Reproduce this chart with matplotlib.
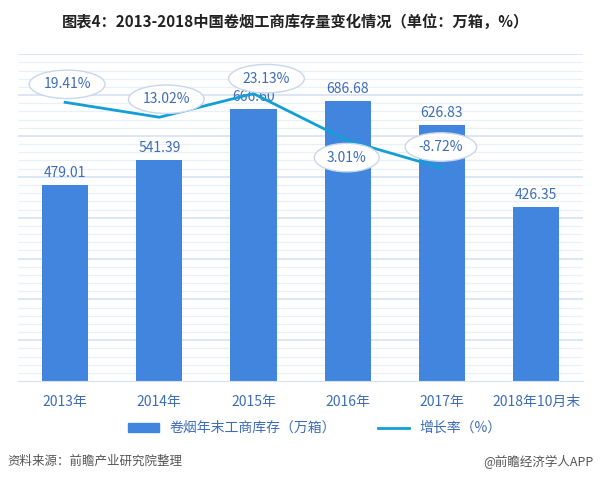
import matplotlib.pyplot as plt
from matplotlib.patches import Patch
from matplotlib.lines import Line2D

plt.rcParams['font.family'] = ['Noto Sans CJK SC', 'DejaVu Sans']

# ============================================================
# 数据
# ============================================================
years = ['2013年', '2014年', '2015年', '2016年', '2017年', '2018年10月末']
stock = [479.01, 541.39, 666.60, 686.68, 626.83, 426.35]
growth = [19.41, 13.02, 23.13, 3.01, -8.72]
growth_labels = ['19.41%', '13.02%', '23.13%', '3.01%', '-8.72%']

bar_color = '#4285DF'
line_color = '#129FD6'
text_blue = '#3E6DB8'

# 椭圆标签偏移 (像素)
label_offsets = [(2, 18), (7, 18), (13, 15), (-1, -17), (-1, 21)]

fig = plt.figure(figsize=(6, 4.8), dpi=100)
ax = fig.add_axes([0.03, 0.206, 0.942, 0.681])
x = list(range(len(years)))

# 网格线: 主线每100, 次线每20
for yv in range(20, 801, 20):
    major = yv % 100 == 0
    ax.axhline(yv, color='#D6E2F2' if major else '#EAF0F8',
               linewidth=1.2 if major else 0.9, solid_capstyle='butt', zorder=0)

ax.bar(x, stock, width=0.49, color=bar_color, zorder=2)
for xi, v in zip(x, stock):
    ax.annotate(f'{v:.2f}', (xi, v), xytext=(0, 5), textcoords='offset pixels',
                ha='center', va='bottom', fontsize=10, color=text_blue, zorder=3)

ax.set_xlim(-0.5, len(years) - 0.5)
ax.set_ylim(0, 800)
for s in ['top', 'right', 'left']:
    ax.spines[s].set_visible(False)
ax.spines['bottom'].set_color('#D6E2F2')
ax.set_xticks(x)
ax.set_xticklabels(years)
ax.set_yticks([])

# 增长率折线 (次坐标轴)
ax2 = ax.twinx()
ax2.set_ylim(-100, 40)
ax2.axis('off')
ax.set_yticks([])
ax.tick_params(axis='x', length=0, pad=10, labelsize=10, labelcolor=text_blue)
ax2.plot(x[:len(growth)], growth, color=line_color, linewidth=2, zorder=4)
for xi, g, lab, off in zip(x, growth, growth_labels, label_offsets):
    ax2.annotate(lab, (xi, g), xytext=off, textcoords='offset pixels',
                 ha='center', va='center', fontsize=10, color=text_blue, zorder=5,
                 bbox=dict(boxstyle='ellipse,pad=0.22', fc='white', ec='#C8D7EC', lw=1))

# 标题
fig.text(0.492, 0.955, '图表4：2013-2018中国卷烟工商库存量变化情况（单位：万箱，%）',
         ha='center', va='center', fontsize=11, fontweight='bold', color='#222222')

# 图例
handles = [Patch(color=bar_color), Line2D([0], [0], color=line_color, linewidth=2)]
fig.legend(handles, ['卷烟年末工商库存（万箱）', '增长率（%）'], loc='center',
           bbox_to_anchor=(0.525, 0.108), ncol=2, frameon=False, fontsize=10,
           labelcolor=text_blue, handlelength=2.2, handleheight=0.6, columnspacing=3)

# 来源
fig.text(0.012, 0.038, '资料来源：前瞻产业研究院整理', ha='left', va='center',
         fontsize=9, style='italic', color='#555555')
fig.text(0.99, 0.038, '@前瞻经济学人APP', ha='right', va='center',
         fontsize=9, color='#555555')

plt.savefig('out.png', dpi=100)
plt.close()
